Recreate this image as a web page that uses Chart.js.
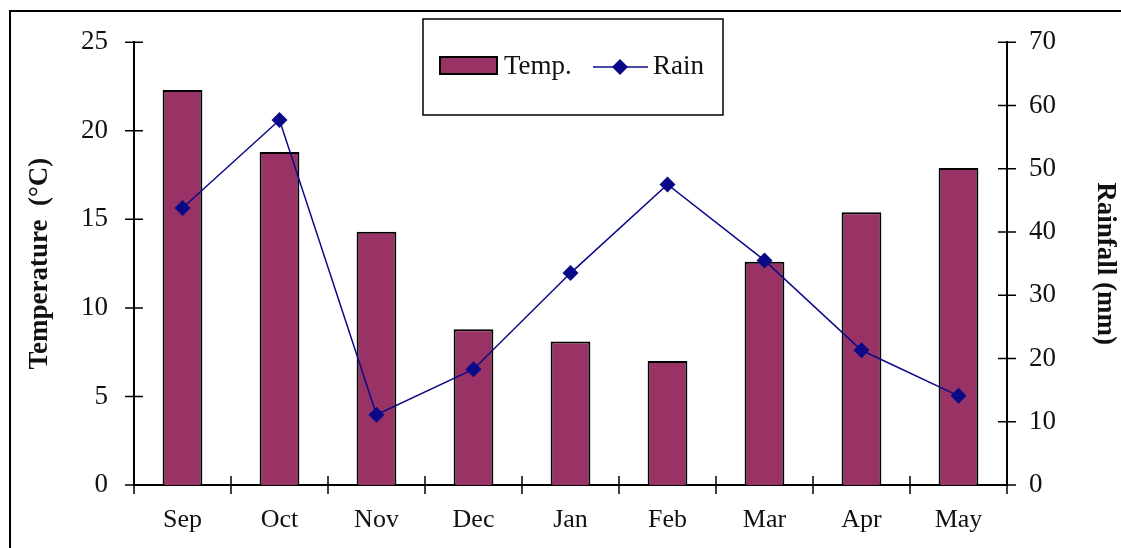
<!DOCTYPE html>
<html>
<head>
<meta charset="utf-8">
<script src="https://cdn.jsdelivr.net/npm/chart.js@4/dist/chart.umd.min.js"></script>
<style>
  html, body { margin: 0; padding: 0; background: #ffffff; }
  #wrap { width: 1121px; height: 548px; position: relative; }
</style>
</head>
<body>
<div id="wrap"><canvas id="c" width="1121" height="548"></canvas></div>
<script>
const categories = ["Sep", "Oct", "Nov", "Dec", "Jan", "Feb", "Mar", "Apr", "May"];
const tempValues = [22.3, 18.8, 14.3, 8.8, 8.1, 7.0, 12.6, 15.4, 17.9];
const rainValues = [43.8, 57.7, 11.1, 18.3, 33.5, 47.5, 35.5, 21.3, 14.1];
const tempTicks = [0, 5, 10, 15, 20, 25];
const rainTicks = [0, 10, 20, 30, 40, 50, 60, 70];
const legendLabels = ["Temp.", "Rain"];

const BAR_COLOR = '#993366';
const LINE_COLOR = '#0a0a88';
const FONT = '"Liberation Serif", "Times New Roman", serif';

const frameAndTicks = {
  id: 'frameAndTicks',
  beforeDraw(chart) {
    const ctx = chart.ctx;
    ctx.save();
    ctx.fillStyle = '#ffffff';
    ctx.fillRect(0, 0, chart.width, chart.height);
    ctx.strokeStyle = '#000';
    ctx.lineWidth = 2;
    ctx.beginPath();
    ctx.moveTo(10, chart.height);
    ctx.lineTo(10, 11);
    ctx.lineTo(chart.width, 11);
    ctx.stroke();
    ctx.restore();
  },
  afterDraw(chart) {
    const ctx = chart.ctx;
    const x = chart.scales.x, yl = chart.scales.y, yr = chart.scales.y2;
    ctx.save();
    ctx.strokeStyle = '#000';
    ctx.lineWidth = 1.5;
    ctx.beginPath();
    tempTicks.forEach(v => {
      const py = yl.getPixelForValue(v);
      ctx.moveTo(yl.right - 9, py); ctx.lineTo(yl.right + 9, py);
    });
    rainTicks.forEach(v => {
      const py = yr.getPixelForValue(v);
      ctx.moveTo(yr.left - 9, py); ctx.lineTo(yr.left + 9, py);
    });
    const n = categories.length;
    for (let i = 0; i <= n; i++) {
      const px = x.left + (x.right - x.left) * i / n;
      ctx.moveTo(px, x.top - 9); ctx.lineTo(px, x.top + 9);
    }
    ctx.stroke();

    // legend
    const bx = 423, by = 19, bw = 300, bh = 96;
    ctx.fillStyle = '#fff';
    ctx.fillRect(bx, by, bw, bh);
    ctx.lineWidth = 1.5;
    ctx.strokeRect(bx, by, bw, bh);
    const cy = 66;
    ctx.fillStyle = BAR_COLOR;
    ctx.fillRect(440, 57, 57, 17);
    ctx.strokeStyle = '#000';
    ctx.lineWidth = 2;
    ctx.strokeRect(440, 57, 57, 17);
    ctx.fillStyle = '#111';
    ctx.font = '27px ' + FONT;
    ctx.textBaseline = 'middle';
    ctx.textAlign = 'left';
    ctx.fillText(legendLabels[0], 504, cy + 1);
    ctx.strokeStyle = LINE_COLOR;
    ctx.lineWidth = 1.5;
    ctx.beginPath();
    ctx.moveTo(593, cy + 1); ctx.lineTo(648, cy + 1);
    ctx.stroke();
    ctx.fillStyle = LINE_COLOR;
    ctx.beginPath();
    ctx.moveTo(620, cy - 7); ctx.lineTo(628, cy + 1); ctx.lineTo(620, cy + 9); ctx.lineTo(612, cy + 1);
    ctx.closePath();
    ctx.fill();
    ctx.fillStyle = '#111';
    ctx.fillText(legendLabels[1], 653, cy + 1);
    ctx.restore();
  }
};

new Chart(document.getElementById('c'), {
  data: {
    labels: categories,
    datasets: [
      {
        type: 'line',
        label: legendLabels[1],
        data: rainValues,
        yAxisID: 'y2',
        borderColor: LINE_COLOR,
        backgroundColor: LINE_COLOR,
        borderWidth: 1.5,
        pointStyle: 'rectRot',
        pointRadius: 8,
        pointHoverRadius: 8,
        pointBorderWidth: 0,
        tension: 0,
        order: 0
      },
      {
        type: 'bar',
        label: legendLabels[0],
        data: tempValues,
        yAxisID: 'y',
        backgroundColor: BAR_COLOR,
        borderColor: '#000',
        borderWidth: 2,
        barPercentage: 0.41,
        categoryPercentage: 1.0,
        order: 1
      }
    ]
  },
  options: {
    responsive: false,
    animation: false,
    devicePixelRatio: 1,
    layout: { padding: { top: 41, bottom: 0, left: 0, right: 0 } },
    plugins: { legend: { display: false }, tooltip: { enabled: false } },
    scales: {
      x: {
        offset: true,
        grid: { display: false, drawTicks: false },
        border: { display: true, color: '#000', width: 2 },
        ticks: { color: '#111', font: { family: FONT, size: 26 }, padding: 20, maxRotation: 0 },
        afterFit(s) { s.height = 63; }
      },
      y: {
        position: 'left',
        min: 0, max: 25,
        afterBuildTicks(s) { s.ticks = tempTicks.map(v => ({ value: v })); },
        grid: { display: false, drawTicks: false },
        border: { display: true, color: '#000', width: 2 },
        ticks: { color: '#111', font: { family: FONT, size: 27 }, padding: 26 },
        title: { display: true, text: 'Temperature  (°C)', color: '#111', font: { family: FONT, size: 27, weight: 'bold' }, padding: { top: 24, bottom: 0 } },
        afterFit(s) { s.width = 134; }
      },
      y2: {
        position: 'right',
        min: 0, max: 70,
        afterBuildTicks(s) { s.ticks = rainTicks.map(v => ({ value: v })); },
        grid: { display: false, drawTicks: false },
        border: { display: true, color: '#000', width: 2 },
        ticks: { color: '#111', font: { family: FONT, size: 27 }, padding: 22 },
        title: { display: true, text: 'Rainfall (mm)', color: '#111', font: { family: FONT, size: 27, weight: 'bold' }, padding: { top: 0, bottom: 0 } },
        afterFit(s) { s.width = 114; }
      }
    }
  },
  plugins: [frameAndTicks]
});
</script>
</body>
</html>
